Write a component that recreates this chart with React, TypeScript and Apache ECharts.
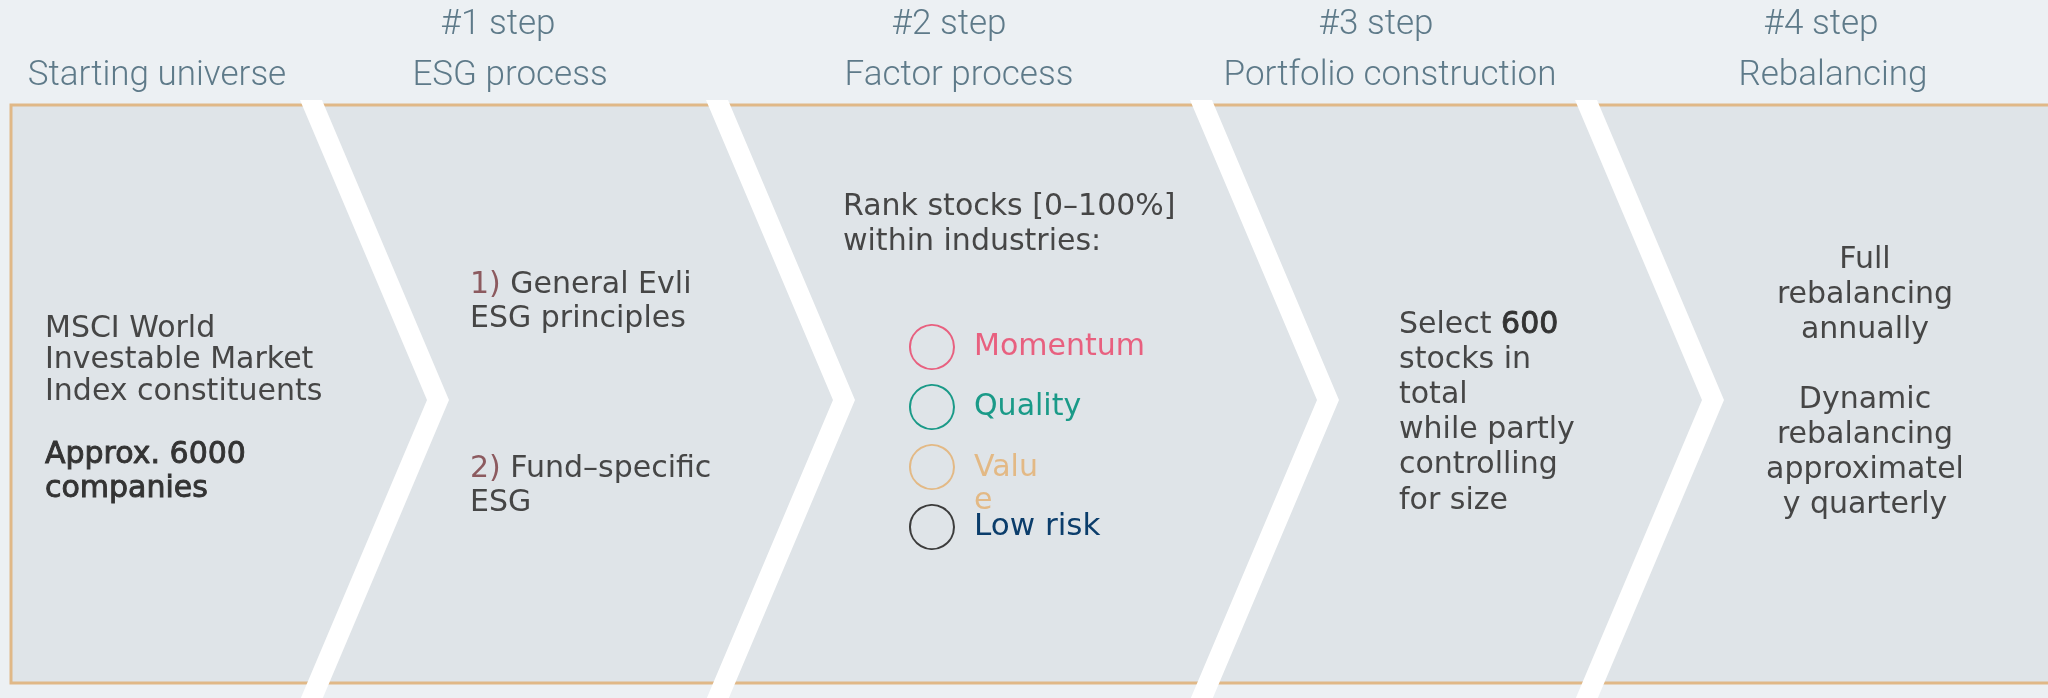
import React, { useEffect, useRef } from 'react';
import * as echarts from 'echarts';

// ---- content ----
const stepNumbers = ['#1 step', '#2 step', '#3 step', '#4 step'];
const stepTitles = ['Starting universe', 'ESG process', 'Factor process', 'Portfolio construction', 'Rebalancing'];
const universeLines = ['MSCI World', 'Investable Market', 'Index constituents'];
const universeCount = ['Approx. 6000', 'companies'];
const esgNumbers = ['1)', '2)'];
const esgLines = [
  ['General Evli', 'ESG principles'],
  ['Fund–specific', 'ESG'],
];
const factorIntro = ['Rank stocks [0–100%]', 'within industries:'];
const factors = ['Momentum', 'Quality', 'Value', 'Low risk'];
const selectWord = 'Select';
const selectCount = '600';
const portfolioLines = ['stocks in', 'total', 'while partly', 'controlling', 'for size'];
const rebalanceLines = ['Full', 'rebalancing', 'annually', '', 'Dynamic', 'rebalancing', 'approximatel', 'y quarterly'];

// ---- layout / style ----
const W = 2048;
const H = 698;
const BG = '#ECF0F3';
const BOX = '#DFE4E8';
const BORDER = '#E0B887';
const HEAD = '#5E7A89';
const BODY = '#464646';
const STRONG = '#333333';
const NUM = '#8C5A5F';
const factorStroke = ['#E8607F', '#1A9A88', '#E3B985', '#3C3C3C'];
const factorText = ['#E8607F', '#1A9A88', '#E3B985', '#0B3D6B'];
const HEAD_FONT = 'Roboto, sans-serif';
const BODY_FONT = '"DejaVu Sans", sans-serif';
const stepNumberX = [498, 949, 1376, 1821];
const stepTitleX = [157, 510, 959, 1390, 1833];
const chevronX = [300, 706, 1190, 1575];

function txt(text: string, x: number, y: number, opts: any = {}) {
  return {
    type: 'text',
    x,
    y,
    silent: true,
    style: {
      text,
      fill: opts.fill || BODY,
      fontSize: opts.fontSize || 30,
      fontFamily: opts.fontFamily || BODY_FONT,
      fontWeight: opts.fontWeight || 'normal',
      align: opts.align || 'left',
      verticalAlign: opts.verticalAlign || 'middle',
      ...(opts.extra || {}),
    },
  };
}

function buildOption() {
  const g: any[] = [];
  g.push({ type: 'rect', shape: { x: 0, y: 0, width: W, height: H }, style: { fill: BG }, silent: true });
  g.push({
    type: 'rect',
    shape: { x: 11, y: 105, width: W + 100, height: 578 },
    style: { fill: BOX, stroke: BORDER, lineWidth: 3 },
    silent: true,
  });
  // chevrons
  chevronX.forEach((x0) => {
    const bw = 22;
    const dx = 127;
    g.push({
      type: 'polygon',
      silent: true,
      shape: {
        points: [
          [x0, 100],
          [x0 + bw, 100],
          [x0 + bw + dx, 400],
          [x0 + bw, 700],
          [x0, 700],
          [x0 + dx, 400],
        ],
      },
      style: { fill: '#FFFFFF' },
    });
  });
  // headers
  stepNumbers.forEach((t, i) => {
    g.push(txt(t, stepNumberX[i], 22, { fill: HEAD, fontSize: 35, fontFamily: HEAD_FONT, fontWeight: 300, align: 'center' }));
  });
  stepTitles.forEach((t, i) => {
    g.push(txt(t, stepTitleX[i], 73, { fill: HEAD, fontSize: 35, fontFamily: HEAD_FONT, fontWeight: 300, align: 'center' }));
  });
  // box 0
  universeLines.forEach((t, i) => g.push(txt(t, 45, 326 + i * 31.5)));
  universeCount.forEach((t, i) =>
    g.push(txt(t, 45, 452 + i * 34, { fill: STRONG, extra: { stroke: STRONG, lineWidth: 0.9 } }))
  );
  // box 1
  const esgY = [282, 466];
  esgNumbers.forEach((n, k) => {
    esgLines[k].forEach((t, i) => {
      if (i === 0) {
        g.push(
          txt('{n|' + n + '} ' + t, 470, esgY[k], {
            extra: {
              rich: {
                n: { fill: NUM, fontSize: 30, fontFamily: BODY_FONT },
              },
            },
          })
        );
      } else {
        g.push(txt(t, 470, esgY[k] + i * 34.5));
      }
    });
  });
  // box 2
  factorIntro.forEach((t, i) => g.push(txt(t, 843, 204 + i * 35)));
  factors.forEach((f, i) => {
    const cy = 347 + i * 60;
    g.push({
      type: 'circle',
      silent: true,
      shape: { cx: 932, cy, r: 22 },
      style: { fill: 'none', stroke: factorStroke[i], lineWidth: 2 },
    });
    if (f === 'Value') {
      g.push(
        txt(f, 974, cy - 2 - 16.5, {
          fill: factorText[i],
          verticalAlign: 'top',
          extra: { width: 75, overflow: 'breakAll', lineHeight: 33 },
        })
      );
    } else {
      g.push(txt(f, 974, cy - 3, { fill: factorText[i], fontSize: f === 'Low risk' ? 31 : 30 }));
    }
  });
  // box 3
  g.push(
    txt(selectWord + ' {b|' + selectCount + '}', 1399, 322, {
      extra: {
        rich: { b: { fill: STRONG, fontSize: 30, fontFamily: BODY_FONT, stroke: STRONG, lineWidth: 0.9 } },
      },
    })
  );
  portfolioLines.forEach((t, i) => g.push(txt(t, 1399, 322 + (i + 1) * 35.2)));
  // box 4
  rebalanceLines.forEach((t, i) => {
    if (t) g.push(txt(t, 1865, 257 + i * 35, { align: 'center' }));
  });
  return { animation: false, graphic: g };
}

export default function App() {
  const ref = useRef<HTMLDivElement>(null);
  useEffect(() => {
    const chart = echarts.init(ref.current!, null, { renderer: 'svg' });
    chart.setOption(buildOption());
    return () => chart.dispose();
  }, []);
  return <div ref={ref} style={{ position: 'fixed', left: 0, top: 0, width: W, height: H }} />;
}
